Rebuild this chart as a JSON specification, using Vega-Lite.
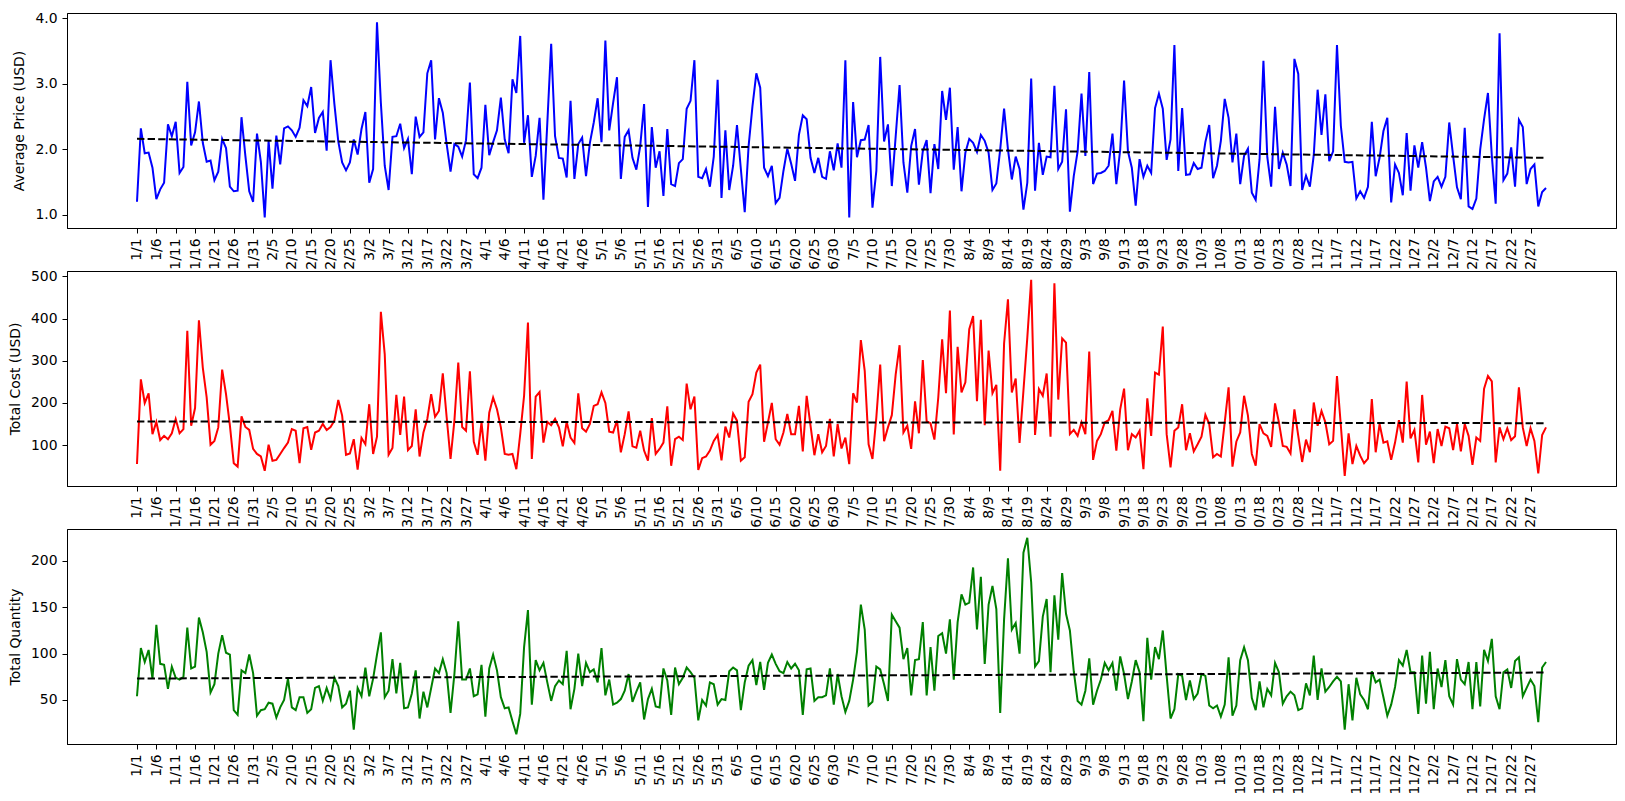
{
"$schema": "https://vega.github.io/schema/vega-lite/v6.json",
"background": "white",
"padding": {"left": 7, "top": 10, "right": 9, "bottom": 0},
"config": {
  "font": "DejaVu Sans",
  "view": {"stroke": "black", "strokeWidth": 1, "fill": "white"},
  "axis": {"grid": false, "domainColor": "black", "tickColor": "black", "labelColor": "black", "titleColor": "black", "tickSize": 5, "labelPadding": 5, "labelFontSize": 13.9, "titleFontSize": 13.9, "titleFontWeight": "normal", "titlePadding": 8, "labelFont": "DejaVu Sans", "titleFont": "DejaVu Sans"},
  "line": {"strokeWidth": 2}
},
"bounds": "flush",
"spacing": 43,
"data": {"values": [
{"i":0,"d":"1/1","p":1.20,"c":55,"q":54,"tp":2.16,"tc":156,"tq":73.1},
{"i":1,"d":"1/2","p":2.32,"c":256,"q":106},
{"i":2,"d":"1/3","p":1.94,"c":200,"q":91},
{"i":3,"d":"1/4","p":1.95,"c":223,"q":104},
{"i":4,"d":"1/5","p":1.72,"c":126,"q":73},
{"i":5,"d":"1/6","p":1.24,"c":155,"q":131},
{"i":6,"d":"1/7","p":1.39,"c":112,"q":89},
{"i":7,"d":"1/8","p":1.49,"c":122,"q":88},
{"i":8,"d":"1/9","p":2.38,"c":114,"q":62},
{"i":9,"d":"1/10","p":2.20,"c":128,"q":86},
{"i":10,"d":"1/11","p":2.42,"c":162,"q":74},
{"i":11,"d":"1/12","p":1.64,"c":128,"q":72},
{"i":12,"d":"1/13","p":1.73,"c":138,"q":75},
{"i":13,"d":"1/14","p":3.03,"c":371,"q":128},
{"i":14,"d":"1/15","p":2.06,"c":146,"q":84},
{"i":15,"d":"1/16","p":2.26,"c":188,"q":86},
{"i":16,"d":"1/17","p":2.73,"c":396,"q":139},
{"i":17,"d":"1/18","p":2.10,"c":284,"q":123},
{"i":18,"d":"1/19","p":1.81,"c":213,"q":102},
{"i":19,"d":"1/20","p":1.83,"c":101,"q":58},
{"i":20,"d":"1/21","p":1.53,"c":110,"q":67},
{"i":21,"d":"1/22","p":1.66,"c":142,"q":100},
{"i":22,"d":"1/23","p":2.16,"c":279,"q":120},
{"i":23,"d":"1/24","p":2.02,"c":221,"q":101},
{"i":24,"d":"1/25","p":1.43,"c":147,"q":99},
{"i":25,"d":"1/26","p":1.36,"c":57,"q":39},
{"i":26,"d":"1/27","p":1.37,"c":49,"q":34},
{"i":27,"d":"1/28","p":2.49,"c":168,"q":82},
{"i":28,"d":"1/29","p":1.90,"c":143,"q":79},
{"i":29,"d":"1/30","p":1.36,"c":136,"q":99},
{"i":30,"d":"1/31","p":1.20,"c":91,"q":79},
{"i":31,"d":"2/1","p":2.24,"c":79,"q":33},
{"i":32,"d":"2/2","p":1.81,"c":73,"q":39},
{"i":33,"d":"2/3","p":0.96,"c":39,"q":40},
{"i":34,"d":"2/4","p":2.13,"c":101,"q":47},
{"i":35,"d":"2/5","p":1.40,"c":63,"q":46},
{"i":36,"d":"2/6","p":2.21,"c":65,"q":31},
{"i":37,"d":"2/7","p":1.77,"c":79,"q":42},
{"i":38,"d":"2/8","p":2.32,"c":93,"q":50},
{"i":39,"d":"2/9","p":2.35,"c":106,"q":73},
{"i":40,"d":"2/10","p":2.29,"c":138,"q":42},
{"i":41,"d":"2/11","p":2.19,"c":134,"q":39},
{"i":42,"d":"2/12","p":2.33,"c":57,"q":53},
{"i":43,"d":"2/13","p":2.75,"c":140,"q":53},
{"i":44,"d":"2/14","p":2.66,"c":143,"q":36},
{"i":45,"d":"2/15","p":2.95,"c":89,"q":40},
{"i":46,"d":"2/16","p":2.25,"c":130,"q":63},
{"i":47,"d":"2/17","p":2.48,"c":134,"q":65},
{"i":48,"d":"2/18","p":2.57,"c":150,"q":49},
{"i":49,"d":"2/19","p":1.98,"c":136,"q":63},
{"i":50,"d":"2/20","p":3.36,"c":143,"q":51},
{"i":51,"d":"2/21","p":2.69,"c":158,"q":74},
{"i":52,"d":"2/22","p":2.12,"c":207,"q":65},
{"i":53,"d":"2/23","p":1.80,"c":170,"q":42},
{"i":54,"d":"2/24","p":1.68,"c":77,"q":46},
{"i":55,"d":"2/25","p":1.80,"c":80,"q":60},
{"i":56,"d":"2/26","p":2.15,"c":114,"q":18},
{"i":57,"d":"2/27","p":1.92,"c":42,"q":63},
{"i":58,"d":"2/28","p":2.31,"c":117,"q":54},
{"i":59,"d":"3/1","p":2.57,"c":102,"q":85},
{"i":60,"d":"3/2","p":1.49,"c":197,"q":54},
{"i":61,"d":"3/3","p":1.70,"c":79,"q":73},
{"i":62,"d":"3/4","p":3.94,"c":120,"q":99},
{"i":63,"d":"3/5","p":2.71,"c":416,"q":123},
{"i":64,"d":"3/6","p":1.75,"c":316,"q":53},
{"i":65,"d":"3/7","p":1.38,"c":77,"q":60},
{"i":66,"d":"3/8","p":2.19,"c":93,"q":94},
{"i":67,"d":"3/9","p":2.20,"c":219,"q":57},
{"i":68,"d":"3/10","p":2.39,"c":124,"q":90},
{"i":69,"d":"3/11","p":2.02,"c":215,"q":41},
{"i":70,"d":"3/12","p":2.16,"c":88,"q":42},
{"i":71,"d":"3/13","p":1.62,"c":98,"q":57},
{"i":72,"d":"3/14","p":2.50,"c":185,"q":82},
{"i":73,"d":"3/15","p":2.19,"c":73,"q":30},
{"i":74,"d":"3/16","p":2.26,"c":130,"q":59},
{"i":75,"d":"3/17","p":3.16,"c":162,"q":42},
{"i":76,"d":"3/18","p":3.36,"c":221,"q":63},
{"i":77,"d":"3/19","p":2.15,"c":167,"q":84},
{"i":78,"d":"3/20","p":2.78,"c":181,"q":79},
{"i":79,"d":"3/21","p":2.56,"c":270,"q":94},
{"i":80,"d":"3/22","p":2.08,"c":166,"q":79},
{"i":81,"d":"3/23","p":1.66,"c":67,"q":36},
{"i":82,"d":"3/24","p":2.08,"c":158,"q":78},
{"i":83,"d":"3/25","p":2.04,"c":296,"q":135},
{"i":84,"d":"3/26","p":1.89,"c":143,"q":72},
{"i":85,"d":"3/27","p":2.14,"c":134,"q":72},
{"i":86,"d":"3/28","p":3.02,"c":275,"q":84},
{"i":87,"d":"3/29","p":1.62,"c":108,"q":54},
{"i":88,"d":"3/30","p":1.56,"c":77,"q":56},
{"i":89,"d":"3/31","p":1.72,"c":154,"q":88},
{"i":90,"d":"4/1","p":2.68,"c":63,"q":32},
{"i":91,"d":"4/2","p":1.91,"c":177,"q":84},
{"i":92,"d":"4/3","p":2.11,"c":213,"q":99},
{"i":93,"d":"4/4","p":2.29,"c":185,"q":82},
{"i":94,"d":"4/5","p":2.79,"c":142,"q":53},
{"i":95,"d":"4/6","p":2.15,"c":79,"q":41},
{"i":96,"d":"4/7","p":1.94,"c":77,"q":42},
{"i":97,"d":"4/8","p":3.07,"c":79,"q":27},
{"i":98,"d":"4/9","p":2.86,"c":43,"q":13},
{"i":99,"d":"4/10","p":3.73,"c":126,"q":35},
{"i":100,"d":"4/11","p":2.10,"c":217,"q":107},
{"i":101,"d":"4/12","p":2.52,"c":391,"q":147},
{"i":102,"d":"4/13","p":1.58,"c":67,"q":45},
{"i":103,"d":"4/14","p":1.90,"c":215,"q":93},
{"i":104,"d":"4/15","p":2.48,"c":226,"q":82},
{"i":105,"d":"4/16","p":1.23,"c":106,"q":90},
{"i":106,"d":"4/17","p":2.40,"c":155,"q":69},
{"i":107,"d":"4/18","p":3.61,"c":147,"q":49},
{"i":108,"d":"4/19","p":2.20,"c":162,"q":65},
{"i":109,"d":"4/20","p":1.87,"c":142,"q":71},
{"i":110,"d":"4/21","p":1.86,"c":97,"q":67},
{"i":111,"d":"4/22","p":1.57,"c":155,"q":103},
{"i":112,"d":"4/23","p":2.74,"c":118,"q":40},
{"i":113,"d":"4/24","p":1.55,"c":105,"q":62},
{"i":114,"d":"4/25","p":2.08,"c":223,"q":100},
{"i":115,"d":"4/26","p":2.18,"c":140,"q":65},
{"i":116,"d":"4/27","p":1.59,"c":132,"q":90},
{"i":117,"d":"4/28","p":2.10,"c":150,"q":80},
{"i":118,"d":"4/29","p":2.41,"c":193,"q":83},
{"i":119,"d":"4/30","p":2.78,"c":197,"q":69},
{"i":120,"d":"5/1","p":2.11,"c":225,"q":106},
{"i":121,"d":"5/2","p":3.66,"c":200,"q":55},
{"i":122,"d":"5/3","p":2.29,"c":132,"q":72},
{"i":123,"d":"5/4","p":2.71,"c":130,"q":45},
{"i":124,"d":"5/5","p":3.10,"c":158,"q":47},
{"i":125,"d":"5/6","p":1.55,"c":83,"q":51},
{"i":126,"d":"5/7","p":2.19,"c":126,"q":60},
{"i":127,"d":"5/8","p":2.29,"c":180,"q":78},
{"i":128,"d":"5/9","p":1.87,"c":97,"q":48},
{"i":129,"d":"5/10","p":1.69,"c":94,"q":59},
{"i":130,"d":"5/11","p":2.05,"c":134,"q":69},
{"i":131,"d":"5/12","p":2.69,"c":87,"q":29},
{"i":132,"d":"5/13","p":1.12,"c":63,"q":51},
{"i":133,"d":"5/14","p":2.34,"c":164,"q":62},
{"i":134,"d":"5/15","p":1.72,"c":79,"q":43},
{"i":135,"d":"5/16","p":1.97,"c":91,"q":42},
{"i":136,"d":"5/17","p":1.29,"c":106,"q":84},
{"i":137,"d":"5/18","p":2.31,"c":192,"q":71},
{"i":138,"d":"5/19","p":1.47,"c":51,"q":34},
{"i":139,"d":"5/20","p":1.44,"c":114,"q":85},
{"i":140,"d":"5/21","p":1.79,"c":120,"q":67},
{"i":141,"d":"5/22","p":1.85,"c":112,"q":74},
{"i":142,"d":"5/23","p":2.62,"c":246,"q":85},
{"i":143,"d":"5/24","p":2.74,"c":185,"q":80},
{"i":144,"d":"5/25","p":3.36,"c":215,"q":74},
{"i":145,"d":"5/26","p":1.58,"c":41,"q":28},
{"i":146,"d":"5/27","p":1.56,"c":69,"q":50},
{"i":147,"d":"5/28","p":1.70,"c":73,"q":44},
{"i":148,"d":"5/29","p":1.43,"c":87,"q":69},
{"i":149,"d":"5/30","p":1.89,"c":110,"q":67},
{"i":150,"d":"5/31","p":3.06,"c":124,"q":45},
{"i":151,"d":"6/1","p":1.26,"c":64,"q":51},
{"i":152,"d":"6/2","p":2.29,"c":144,"q":50},
{"i":153,"d":"6/3","p":1.38,"c":118,"q":81},
{"i":154,"d":"6/4","p":1.75,"c":175,"q":85},
{"i":155,"d":"6/5","p":2.37,"c":158,"q":82},
{"i":156,"d":"6/6","p":1.70,"c":63,"q":39},
{"i":157,"d":"6/7","p":1.04,"c":71,"q":69},
{"i":158,"d":"6/8","p":2.05,"c":203,"q":87},
{"i":159,"d":"6/9","p":2.66,"c":221,"q":93},
{"i":160,"d":"6/10","p":3.16,"c":272,"q":66},
{"i":161,"d":"6/11","p":2.94,"c":291,"q":91},
{"i":162,"d":"6/12","p":1.72,"c":108,"q":61},
{"i":163,"d":"6/13","p":1.59,"c":154,"q":90},
{"i":164,"d":"6/14","p":1.75,"c":200,"q":99},
{"i":165,"d":"6/15","p":1.18,"c":114,"q":89},
{"i":166,"d":"6/16","p":1.26,"c":101,"q":81},
{"i":167,"d":"6/17","p":1.67,"c":130,"q":79},
{"i":168,"d":"6/18","p":2.01,"c":174,"q":91},
{"i":169,"d":"6/19","p":1.78,"c":126,"q":84},
{"i":170,"d":"6/20","p":1.52,"c":126,"q":89},
{"i":171,"d":"6/21","p":2.22,"c":193,"q":82},
{"i":172,"d":"6/22","p":2.52,"c":85,"q":34},
{"i":173,"d":"6/23","p":2.46,"c":217,"q":83},
{"i":174,"d":"6/24","p":1.87,"c":146,"q":84},
{"i":175,"d":"6/25","p":1.64,"c":76,"q":49},
{"i":176,"d":"6/26","p":1.87,"c":126,"q":53},
{"i":177,"d":"6/27","p":1.58,"c":83,"q":53},
{"i":178,"d":"6/28","p":1.55,"c":98,"q":55},
{"i":179,"d":"6/29","p":1.97,"c":162,"q":84},
{"i":180,"d":"6/30","p":1.68,"c":73,"q":45},
{"i":181,"d":"7/1","p":2.09,"c":150,"q":78},
{"i":182,"d":"7/2","p":1.72,"c":92,"q":54},
{"i":183,"d":"7/3","p":3.36,"c":118,"q":37},
{"i":184,"d":"7/4","p":0.96,"c":55,"q":49},
{"i":185,"d":"7/5","p":2.72,"c":223,"q":72},
{"i":186,"d":"7/6","p":1.88,"c":201,"q":102},
{"i":187,"d":"7/7","p":2.14,"c":349,"q":153},
{"i":188,"d":"7/8","p":2.15,"c":276,"q":126},
{"i":189,"d":"7/9","p":2.37,"c":102,"q":44},
{"i":190,"d":"7/10","p":1.11,"c":67,"q":48},
{"i":191,"d":"7/11","p":1.67,"c":166,"q":86},
{"i":192,"d":"7/12","p":3.41,"c":291,"q":83},
{"i":193,"d":"7/13","p":2.12,"c":109,"q":67},
{"i":194,"d":"7/14","p":2.38,"c":142,"q":49},
{"i":195,"d":"7/15","p":1.44,"c":171,"q":142},
{"i":196,"d":"7/16","p":2.20,"c":268,"q":135},
{"i":197,"d":"7/17","p":2.98,"c":337,"q":128},
{"i":198,"d":"7/18","p":1.80,"c":130,"q":94},
{"i":199,"d":"7/19","p":1.34,"c":146,"q":106},
{"i":200,"d":"7/20","p":2.05,"c":91,"q":55},
{"i":201,"d":"7/21","p":2.31,"c":204,"q":93},
{"i":202,"d":"7/22","p":1.46,"c":128,"q":94},
{"i":203,"d":"7/23","p":1.97,"c":302,"q":134},
{"i":204,"d":"7/24","p":2.14,"c":156,"q":55},
{"i":205,"d":"7/25","p":1.33,"c":152,"q":107},
{"i":206,"d":"7/26","p":2.08,"c":113,"q":60},
{"i":207,"d":"7/27","p":1.70,"c":213,"q":119},
{"i":208,"d":"7/28","p":2.89,"c":351,"q":122},
{"i":209,"d":"7/29","p":2.45,"c":223,"q":100},
{"i":210,"d":"7/30","p":2.94,"c":419,"q":137},
{"i":211,"d":"7/31","p":1.69,"c":125,"q":72},
{"i":212,"d":"8/1","p":2.34,"c":333,"q":134},
{"i":213,"d":"8/2","p":1.36,"c":225,"q":164},
{"i":214,"d":"8/3","p":1.95,"c":249,"q":153},
{"i":215,"d":"8/4","p":2.16,"c":375,"q":155},
{"i":216,"d":"8/5","p":2.10,"c":406,"q":193},
{"i":217,"d":"8/6","p":1.96,"c":204,"q":126},
{"i":218,"d":"8/7","p":2.22,"c":397,"q":183},
{"i":219,"d":"8/8","p":2.13,"c":147,"q":89},
{"i":220,"d":"8/9","p":1.95,"c":324,"q":153},
{"i":221,"d":"8/10","p":1.38,"c":223,"q":173},
{"i":222,"d":"8/11","p":1.48,"c":243,"q":148},
{"i":223,"d":"8/12","p":2.00,"c":39,"q":36},
{"i":224,"d":"8/13","p":2.62,"c":341,"q":137},
{"i":225,"d":"8/14","p":2.00,"c":446,"q":203},
{"i":226,"d":"8/15","p":1.54,"c":225,"q":126},
{"i":227,"d":"8/16","p":1.89,"c":258,"q":133},
{"i":228,"d":"8/17","p":1.70,"c":105,"q":100},
{"i":229,"d":"8/18","p":1.08,"c":229,"q":209},
{"i":230,"d":"8/19","p":1.49,"c":355,"q":225},
{"i":231,"d":"8/20","p":3.08,"c":492,"q":177},
{"i":232,"d":"8/21","p":1.37,"c":124,"q":86},
{"i":233,"d":"8/22","p":2.10,"c":233,"q":92},
{"i":234,"d":"8/23","p":1.61,"c":217,"q":140},
{"i":235,"d":"8/24","p":1.89,"c":270,"q":159},
{"i":236,"d":"8/25","p":1.88,"c":120,"q":80},
{"i":237,"d":"8/26","p":2.97,"c":484,"q":163},
{"i":238,"d":"8/27","p":1.70,"c":208,"q":115},
{"i":239,"d":"8/28","p":1.81,"c":353,"q":187},
{"i":240,"d":"8/29","p":2.61,"c":343,"q":143},
{"i":241,"d":"8/30","p":1.05,"c":126,"q":125},
{"i":242,"d":"8/31","p":1.59,"c":136,"q":81},
{"i":243,"d":"9/1","p":1.97,"c":122,"q":49},
{"i":244,"d":"9/2","p":2.85,"c":154,"q":45},
{"i":245,"d":"9/3","p":1.90,"c":126,"q":60},
{"i":246,"d":"9/4","p":3.18,"c":322,"q":95},
{"i":247,"d":"9/5","p":1.47,"c":65,"q":45},
{"i":248,"d":"9/6","p":1.63,"c":110,"q":60},
{"i":249,"d":"9/7","p":1.64,"c":126,"q":72},
{"i":250,"d":"9/8","p":1.67,"c":154,"q":90},
{"i":251,"d":"9/9","p":1.75,"c":159,"q":82},
{"i":252,"d":"9/10","p":2.24,"c":181,"q":90},
{"i":253,"d":"9/11","p":1.47,"c":87,"q":60},
{"i":254,"d":"9/12","p":2.00,"c":185,"q":97},
{"i":255,"d":"9/13","p":3.05,"c":234,"q":78},
{"i":256,"d":"9/14","p":1.97,"c":88,"q":51},
{"i":257,"d":"9/15","p":1.72,"c":126,"q":70},
{"i":258,"d":"9/16","p":1.14,"c":118,"q":93},
{"i":259,"d":"9/17","p":1.85,"c":134,"q":80},
{"i":260,"d":"9/18","p":1.58,"c":43,"q":27},
{"i":261,"d":"9/19","p":1.75,"c":211,"q":117},
{"i":262,"d":"9/20","p":1.64,"c":122,"q":72},
{"i":263,"d":"9/21","p":2.63,"c":272,"q":107},
{"i":264,"d":"9/22","p":2.85,"c":267,"q":94},
{"i":265,"d":"9/23","p":2.62,"c":381,"q":125},
{"i":266,"d":"9/24","p":1.84,"c":126,"q":76},
{"i":267,"d":"9/25","p":2.15,"c":47,"q":30},
{"i":268,"d":"9/26","p":3.59,"c":134,"q":40},
{"i":269,"d":"9/27","p":1.67,"c":142,"q":78},
{"i":270,"d":"9/28","p":2.63,"c":197,"q":76},
{"i":271,"d":"9/29","p":1.61,"c":88,"q":50},
{"i":272,"d":"9/30","p":1.62,"c":128,"q":71},
{"i":273,"d":"10/1","p":1.79,"c":85,"q":51},
{"i":274,"d":"10/2","p":1.70,"c":102,"q":57},
{"i":275,"d":"10/3","p":1.72,"c":120,"q":78},
{"i":276,"d":"10/4","p":2.11,"c":172,"q":76},
{"i":277,"d":"10/5","p":2.37,"c":150,"q":44},
{"i":278,"d":"10/6","p":1.56,"c":71,"q":41},
{"i":279,"d":"10/7","p":1.75,"c":79,"q":44},
{"i":280,"d":"10/8","p":2.13,"c":73,"q":32},
{"i":281,"d":"10/9","p":2.77,"c":154,"q":45},
{"i":282,"d":"10/10","p":2.48,"c":237,"q":96},
{"i":283,"d":"10/11","p":1.80,"c":49,"q":33},
{"i":284,"d":"10/12","p":2.24,"c":108,"q":44},
{"i":285,"d":"10/13","p":1.47,"c":130,"q":93},
{"i":286,"d":"10/14","p":1.90,"c":217,"q":107},
{"i":287,"d":"10/15","p":2.01,"c":170,"q":93},
{"i":288,"d":"10/16","p":1.34,"c":79,"q":52},
{"i":289,"d":"10/17","p":1.23,"c":51,"q":39},
{"i":290,"d":"10/18","p":1.85,"c":150,"q":70},
{"i":291,"d":"10/19","p":3.35,"c":128,"q":42},
{"i":292,"d":"10/20","p":1.88,"c":122,"q":62},
{"i":293,"d":"10/21","p":1.43,"c":96,"q":55},
{"i":294,"d":"10/22","p":2.65,"c":199,"q":90},
{"i":295,"d":"10/23","p":1.70,"c":154,"q":80},
{"i":296,"d":"10/24","p":1.95,"c":98,"q":46},
{"i":297,"d":"10/25","p":1.77,"c":96,"q":54},
{"i":298,"d":"10/26","p":1.44,"c":80,"q":59},
{"i":299,"d":"10/27","p":3.38,"c":185,"q":55},
{"i":300,"d":"10/28","p":3.15,"c":122,"q":39},
{"i":301,"d":"10/29","p":1.38,"c":60,"q":41},
{"i":302,"d":"10/30","p":1.60,"c":113,"q":68},
{"i":303,"d":"10/31","p":1.43,"c":83,"q":55},
{"i":304,"d":"11/1","p":1.91,"c":201,"q":98},
{"i":305,"d":"11/2","p":2.91,"c":146,"q":50},
{"i":306,"d":"11/3","p":2.22,"c":181,"q":84},
{"i":307,"d":"11/4","p":2.84,"c":154,"q":59},
{"i":308,"d":"11/5","p":1.82,"c":102,"q":64},
{"i":309,"d":"11/6","p":1.97,"c":110,"q":70},
{"i":310,"d":"11/7","p":3.59,"c":264,"q":75},
{"i":311,"d":"11/8","p":2.36,"c":146,"q":70},
{"i":312,"d":"11/9","p":1.81,"c":27,"q":18},
{"i":313,"d":"11/10","p":1.80,"c":128,"q":67},
{"i":314,"d":"11/11","p":1.81,"c":55,"q":28},
{"i":315,"d":"11/12","p":1.25,"c":98,"q":74},
{"i":316,"d":"11/13","p":1.36,"c":75,"q":56},
{"i":317,"d":"11/14","p":1.26,"c":57,"q":50},
{"i":318,"d":"11/15","p":1.43,"c":68,"q":40},
{"i":319,"d":"11/16","p":2.42,"c":209,"q":81},
{"i":320,"d":"11/17","p":1.59,"c":83,"q":69},
{"i":321,"d":"11/18","p":1.87,"c":150,"q":72},
{"i":322,"d":"11/19","p":2.28,"c":106,"q":53},
{"i":323,"d":"11/20","p":2.48,"c":109,"q":33},
{"i":324,"d":"11/21","p":1.19,"c":65,"q":45},
{"i":325,"d":"11/22","p":1.77,"c":106,"q":64},
{"i":326,"d":"11/23","p":1.64,"c":159,"q":93},
{"i":327,"d":"11/24","p":1.30,"c":106,"q":87},
{"i":328,"d":"11/25","p":2.25,"c":251,"q":104},
{"i":329,"d":"11/26","p":1.37,"c":116,"q":80},
{"i":330,"d":"11/27","p":2.06,"c":136,"q":80},
{"i":331,"d":"11/28","p":1.72,"c":59,"q":35},
{"i":332,"d":"11/29","p":2.11,"c":219,"q":98},
{"i":333,"d":"11/30","p":1.72,"c":101,"q":46},
{"i":334,"d":"12/1","p":1.21,"c":132,"q":102},
{"i":335,"d":"12/2","p":1.51,"c":57,"q":40},
{"i":336,"d":"12/3","p":1.58,"c":138,"q":84},
{"i":337,"d":"12/4","p":1.43,"c":98,"q":64},
{"i":338,"d":"12/5","p":1.58,"c":144,"q":93},
{"i":339,"d":"12/6","p":2.41,"c":140,"q":54},
{"i":340,"d":"12/7","p":1.90,"c":88,"q":45},
{"i":341,"d":"12/8","p":1.42,"c":150,"q":94},
{"i":342,"d":"12/9","p":1.24,"c":85,"q":72},
{"i":343,"d":"12/10","p":2.33,"c":150,"q":67},
{"i":344,"d":"12/11","p":1.13,"c":122,"q":91},
{"i":345,"d":"12/12","p":1.09,"c":53,"q":40},
{"i":346,"d":"12/13","p":1.25,"c":118,"q":91},
{"i":347,"d":"12/14","p":2.00,"c":110,"q":43},
{"i":348,"d":"12/15","p":2.46,"c":234,"q":104},
{"i":349,"d":"12/16","p":2.86,"c":264,"q":92},
{"i":350,"d":"12/17","p":1.90,"c":251,"q":116},
{"i":351,"d":"12/18","p":1.17,"c":59,"q":54},
{"i":352,"d":"12/19","p":3.77,"c":142,"q":40},
{"i":353,"d":"12/20","p":1.53,"c":114,"q":80},
{"i":354,"d":"12/21","p":1.63,"c":140,"q":83},
{"i":355,"d":"12/22","p":2.03,"c":112,"q":63},
{"i":356,"d":"12/23","p":1.43,"c":121,"q":92},
{"i":357,"d":"12/24","p":2.45,"c":237,"q":96},
{"i":358,"d":"12/25","p":2.34,"c":142,"q":54},
{"i":359,"d":"12/26","p":1.47,"c":98,"q":63},
{"i":360,"d":"12/27","p":1.70,"c":140,"q":72},
{"i":361,"d":"12/28","p":1.77,"c":110,"q":65},
{"i":362,"d":"12/29","p":1.13,"c":33,"q":26},
{"i":363,"d":"12/30","p":1.35,"c":124,"q":85},
{"i":364,"d":"12/31","p":1.41,"c":142,"q":91,"tp":1.87,"tc":152,"tq":79.6}
]},
"vconcat": [
{
 "width": 1549, "height": 215,
 "encoding": {"x": {"field": "i", "type": "quantitative", "scale": {"domain": [-18.08, 382.08], "nice": false, "zero": false}, "axis": {"title": null, "labelAngle": -90, "labelOverlap": false, "labelFlush": false, "values": [0,5,10,15,20,25,30,35,40,45,50,55,60,65,70,75,80,85,90,95,100,105,110,115,120,125,130,135,140,145,150,155,160,165,170,175,180,185,190,195,200,205,210,215,220,225,230,235,240,245,250,255,260,265,270,275,280,285,290,295,300,305,310,315,320,325,330,335,340,345,350,355,360], "labelExpr": "timeFormat(datetime(2023, 0, 1 + datum.value), '%-m/%-d')"}}},
 "layer": [
  {"mark": {"type": "line", "color": "#0000ff", "strokeWidth": 2}, "encoding": {"y": {"field": "p", "type": "quantitative", "scale": {"domain": [0.80, 4.08], "nice": false, "zero": false}, "axis": {"title": "Average Price (USD)", "values": [1, 1.5, 2, 2.5, 3, 3.5, 4], "format": ".1f"}}}},
  {"mark": {"type": "line", "color": "black", "strokeWidth": 2, "strokeDash": [7.4, 3.2], "invalid": "filter"}, "encoding": {"y": {"field": "tp", "type": "quantitative"}}}
 ]
},
{
 "width": 1549, "height": 215,
 "encoding": {"x": {"field": "i", "type": "quantitative", "scale": {"domain": [-18.08, 382.08], "nice": false, "zero": false}, "axis": {"title": null, "labelAngle": -90, "labelOverlap": false, "labelFlush": false, "values": [0,5,10,15,20,25,30,35,40,45,50,55,60,65,70,75,80,85,90,95,100,105,110,115,120,125,130,135,140,145,150,155,160,165,170,175,180,185,190,195,200,205,210,215,220,225,230,235,240,245,250,255,260,265,270,275,280,285,290,295,300,305,310,315,320,325,330,335,340,345,350,355,360], "labelExpr": "timeFormat(datetime(2023, 0, 1 + datum.value), '%-m/%-d')"}}},
 "layer": [
  {"mark": {"type": "line", "color": "#ff0000", "strokeWidth": 2}, "encoding": {"y": {"field": "c", "type": "quantitative", "scale": {"domain": [3, 513], "nice": false, "zero": false}, "axis": {"title": "Total Cost (USD)", "values": [100, 200, 300, 400, 500]}}}},
  {"mark": {"type": "line", "color": "black", "strokeWidth": 2, "strokeDash": [7.4, 3.2], "invalid": "filter"}, "encoding": {"y": {"field": "tc", "type": "quantitative"}}}
 ]
},
{
 "width": 1549, "height": 215,
 "encoding": {"x": {"field": "i", "type": "quantitative", "scale": {"domain": [-18.08, 382.08], "nice": false, "zero": false}, "axis": {"title": null, "labelAngle": -90, "labelOverlap": false, "labelFlush": false, "values": [0,5,10,15,20,25,30,35,40,45,50,55,60,65,70,75,80,85,90,95,100,105,110,115,120,125,130,135,140,145,150,155,160,165,170,175,180,185,190,195,200,205,210,215,220,225,230,235,240,245,250,255,260,265,270,275,280,285,290,295,300,305,310,315,320,325,330,335,340,345,350,355,360], "labelExpr": "timeFormat(datetime(2023, 0, 1 + datum.value), '%-m/%-d')"}}},
 "layer": [
  {"mark": {"type": "line", "color": "#008000", "strokeWidth": 2}, "encoding": {"y": {"field": "q", "type": "quantitative", "scale": {"domain": [2.5, 234.5], "nice": false, "zero": false}, "axis": {"title": "Total Quantity", "values": [50, 100, 150, 200]}}}},
  {"mark": {"type": "line", "color": "black", "strokeWidth": 2, "strokeDash": [7.4, 3.2], "invalid": "filter"}, "encoding": {"y": {"field": "tq", "type": "quantitative"}}}
 ]
}
]
}
